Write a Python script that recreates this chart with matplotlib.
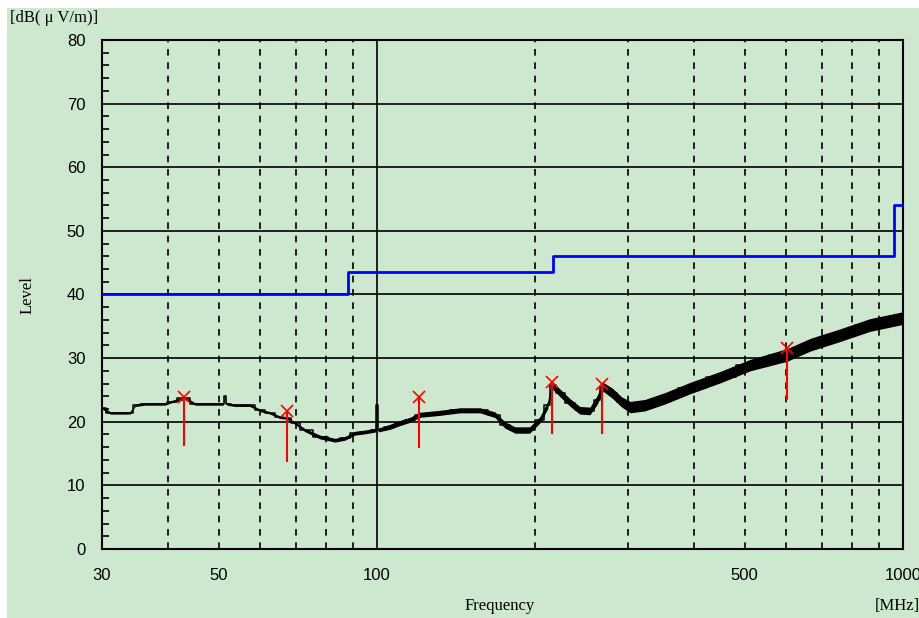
import numpy as np
import matplotlib.pyplot as plt
from matplotlib.patches import Rectangle
from matplotlib.ticker import FixedLocator, NullFormatter, NullLocator

freq = [30, 31.1, 33.9, 34.7, 36.2, 39.5, 40.4, 43.1, 45.1, 48.1,
        50.3, 51.0, 51.4, 51.8, 53.7, 57.3, 59.9, 62.6, 65.4, 67.4,
        69.8, 72.9, 77.9, 83.2, 86.9, 90.8, 94.9, 99.5, 100, 100.5,
        105.8, 110.6, 115.5, 120.7, 131.7, 143.8, 157, 167.6, 175, 183,
        195, 204, 211, 215, 223, 233, 243, 254, 262, 269,
        280, 292, 303, 323, 353, 394, 449, 512, 602, 666,
        759, 865, 1000]
level = [22.2, 21.4, 21.4, 22.6, 22.8, 22.8, 23.1, 23.7, 22.8, 22.8,
         22.8, 22.8, 24.0, 22.8, 22.6, 22.6, 21.8, 21.4, 20.7, 20.6,
         19.8, 18.7, 17.6, 17.1, 17.4, 18.2, 18.4, 18.7, 22.6, 18.7,
         19.2, 19.8, 20.3, 21.1, 21.4, 21.8, 21.8, 21.1, 19.5, 18.7,
         18.7, 20.3, 22.6, 25.8, 24.5, 23.0, 21.8, 21.7, 23.4, 25.5,
         24.5, 23.1, 22.3, 22.6, 23.7, 25.3, 27.0, 28.9, 30.5, 32.1,
         33.6, 35.2, 36.3]
spread = [0.2, 0.2, 0.2, 0.2, 0.2, 0.2, 0.2, 0.2, 0.2, 0.2,
          0.2, 0.2, 0.2, 0.2, 0.2, 0.2, 0.2, 0.2, 0.2, 0.2,
          0.2, 0.25, 0.3, 0.3, 0.3, 0.3, 0.3, 0.3, 0.3, 0.3,
          0.4, 0.4, 0.4, 0.4, 0.4, 0.4, 0.4, 0.45, 0.5, 0.5,
          0.5, 0.5, 0.6, 0.6, 0.6, 0.6, 0.6, 0.6, 0.7, 0.7,
          0.8, 0.8, 0.9, 0.9, 0.9, 0.9, 0.9, 0.9, 1.0, 1.0,
          1.0, 1.0, 1.0]

# limit line
limit_freq = [30, 88, 88, 216, 216, 960, 960, 1000]
limit_level = [40, 40, 43.5, 43.5, 46, 46, 54, 54]

# peak markers: marker level and bottom of the red bar
peak_freq = [43, 67.4, 120, 215, 268, 602]
peak_level = [23.9, 21.7, 23.9, 26.2, 25.9, 31.6]
peak_low = [16.2, 13.7, 15.9, 18.1, 18.1, 23.4]

x_ticks = [30, 50, 100, 500, 1000]
x_grid = [40, 50, 60, 70, 80, 90, 200, 300, 400, 500, 600, 700, 800, 900]
y_ticks = list(range(0, 81, 10))

BG = '#cde8cf'
SERIF = ['Liberation Serif', 'DejaVu Serif']
SANS = ['Liberation Sans', 'DejaVu Sans']

fig = plt.figure(figsize=(9.2, 6.18), dpi=100)
fig.patch.set_facecolor('white')
fig.patches.append(Rectangle((7 / 920, 0), 1, 1 - 8 / 618, transform=fig.transFigure,
                             facecolor=BG, edgecolor='none', zorder=-1))

ax = fig.add_axes([102 / 920, 69 / 618, 801 / 920, 509 / 618])
ax.set_facecolor(BG)
ax.set_xscale('log')
ax.set_xlim(30, 1000)
ax.set_ylim(0, 80)

# grid
for y in y_ticks[1:-1]:
    ax.axhline(y, color='black', lw=1.2, zorder=1)
for x in x_grid:
    ax.axvline(x, color='black', lw=1.2, ls=(0, (4, 4)), zorder=1)
ax.axvline(100, color='black', lw=1.2, zorder=1)

# trace
lo = np.array(level) - np.array(spread)
hi = np.array(level) + np.array(spread)
ax.fill_between(freq, lo, hi, color='black', lw=0, zorder=3)
ax.plot(freq, level, color='black', lw=1.1, drawstyle='steps-mid', zorder=3)

# limit
ax.plot(limit_freq, limit_level, color='#0000ff', lw=2, zorder=4)

# peaks
ax.vlines(peak_freq, peak_low, peak_level, color='red', lw=1.5, zorder=5)
ax.plot(peak_freq, peak_level, 'x', color='red', ms=8, mew=1.2, zorder=6)

# axes styling
for s in ax.spines.values():
    s.set_linewidth(1.5)
    s.set_color('black')
ax.xaxis.set_major_locator(FixedLocator(x_ticks))
ax.xaxis.set_minor_locator(NullLocator())
ax.xaxis.set_minor_formatter(NullFormatter())
ax.set_xticklabels([str(v) for v in x_ticks], fontfamily=SANS, fontsize=12)
ax.tick_params(axis='x', length=0, pad=14)
ax.set_yticks(y_ticks)
ax.set_yticklabels([str(v) for v in y_ticks], fontfamily=SANS, fontsize=12)
ax.yaxis.set_minor_locator(FixedLocator([v for v in range(0, 81, 2) if v % 10]))
ax.tick_params(axis='y', which='major', length=0, pad=12)
ax.tick_params(axis='y', which='minor', direction='in', length=5, width=1.2)

fig.text(500 / 920, 1 - 606 / 618, 'Frequency', ha='center', va='center',
         fontfamily=SERIF, fontsize=12)
fig.text(875 / 920, 1 - 606 / 618, '[MHz]', ha='left', va='center',
         fontfamily=SERIF, fontsize=12)
fig.text(28 / 920, 1 - 295 / 618, 'Level', ha='center', va='center', rotation=90,
         fontfamily=SERIF, fontsize=12)
fig.text(10 / 920, 1 - 18 / 618, '[dB( μ V/m)]', ha='left', va='center',
         fontfamily=SERIF, fontsize=12)

fig.savefig('out.png', dpi=100, facecolor=fig.get_facecolor())
